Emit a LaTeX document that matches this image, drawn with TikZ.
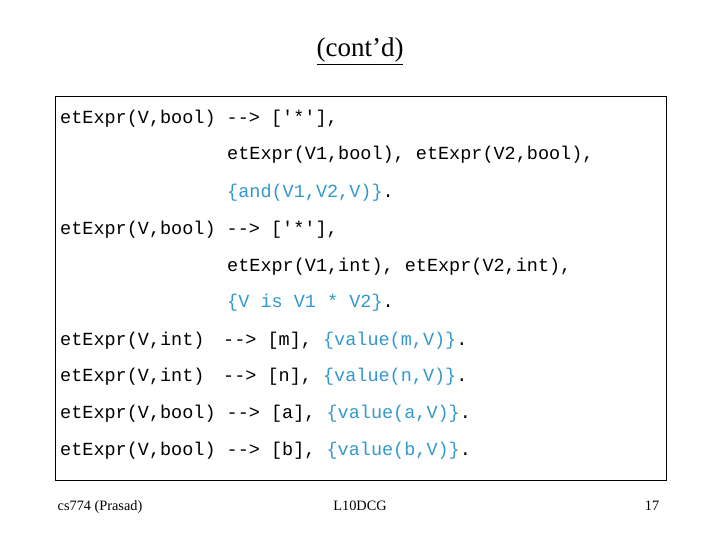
\documentclass[tikz,border=0pt]{standalone}
\usepackage{fontspec}
\setmainfont{Liberation Serif}
\setmonofont{Liberation Mono}
\definecolor{tl}{RGB}{51,153,204}
\begin{document}
\begin{tikzpicture}[x=1pt,y=-1pt,
  code/.style={anchor=base west,inner sep=0pt,font=\fontsize{18.5}{20}\ttfamily},
  foot/.style={anchor=base,inner sep=0pt,font=\fontsize{14.3}{16}\selectfont}]
\useasboundingbox (0,0) rectangle (720,540);
\node[anchor=base,inner sep=0pt,font=\fontsize{27}{30}\selectfont] (t) at (360,57) {\underline{(cont'd)}};
\node[draw,line width=1pt,minimum width=611pt,minimum height=384pt,anchor=north west,inner sep=0pt] (box) at (55,96) {};
\node[code] (l1) at (60,124) {etExpr(V,bool) -->\ ['*'],};
\node[code] (l2) at (227,160) {etExpr(V1,bool), etExpr(V2,bool),};
\node[code] (l3) at (227,197) {\textcolor{tl}{\{and(V1,V2,V)\}}.};
\node[code] (l4) at (60,234) {etExpr(V,bool) -->\ ['*'],};
\node[code] (l5) at (227,271) {etExpr(V1,int), etExpr(V2,int),};
\node[code] (l6) at (227,307) {\textcolor{tl}{\{V is V1 * V2\}}.};
\node[code] (l7a) at (60,345) {etExpr(V,int)};
\node[code] (l7b) at (223,345) {--> [m], \textcolor{tl}{\{value(m,V)\}}.};
\node[code] (l8a) at (60,381) {etExpr(V,int)};
\node[code] (l8b) at (223,381) {--> [n], \textcolor{tl}{\{value(n,V)\}}.};
\node[code] (l9) at (60,418) {etExpr(V,bool) --> [a], \textcolor{tl}{\{value(a,V)\}}.};
\node[code] (l10) at (60,455) {etExpr(V,bool) --> [b], \textcolor{tl}{\{value(b,V)\}}.};
\node[foot] (f1) at (100,510) {cs774 (Prasad)};
\node[foot] (f2) at (360,510) {L10DCG};
\node[foot] (f3) at (652,510) {17};
\end{tikzpicture}
\end{document}
